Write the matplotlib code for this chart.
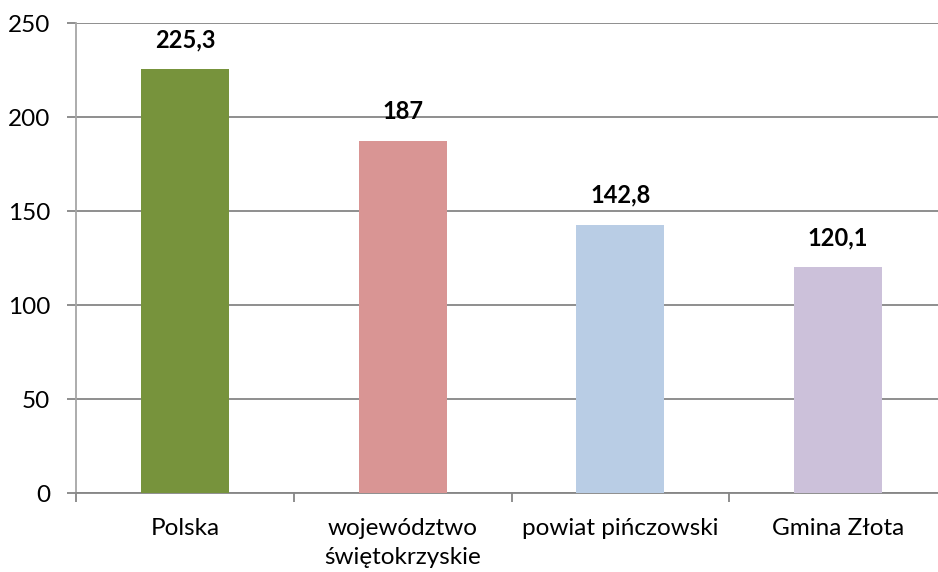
import matplotlib
matplotlib.use("Agg")
import matplotlib.pyplot as plt

categories = ["Polska", "województwo\nświętokrzyskie", "powiat pińczowski", "Gmina Złota"]
values = [225.3, 187, 142.8, 120.1]
value_labels = ["225,3", "187", "142,8", "120,1"]
colors = ["#77933C", "#D99594", "#B9CDE5", "#CCC1DA"]
y_ticks = [0, 50, 100, 150, 200, 250]

plt.rcParams['font.family'] = ['Lato', 'DejaVu Sans']

fig = plt.figure(figsize=(9.38, 5.72), dpi=100)
ax = fig.add_axes([76/938, 79/572, 871/938, 470/572])

x = range(len(categories))
ax.bar(x, values, width=0.405, color=colors, zorder=3)

for xi, v, lab in zip(x, values, value_labels):
    ax.annotate(lab, (xi, v), xytext=(0, 13), textcoords="offset points",
                ha="center", va="bottom", fontsize=17, fontweight="bold")

ax.set_xlim(-0.5, len(categories) - 0.5)
ax.set_ylim(0, 250)
ax.set_yticks(y_ticks)
ax.set_yticklabels([str(t) for t in y_ticks], fontsize=17.5)
ax.yaxis.grid(True, color="#868686", linewidth=1.3, zorder=0)
ax.tick_params(axis="y", length=6.5, width=1.3, color="#868686", pad=12)

ax.set_xticks(x)
ax.set_xticklabels(categories, fontsize=17.5, linespacing=1.5)
ax.set_xticks([i - 0.5 for i in range(len(categories))], minor=True)
ax.tick_params(axis="x", which="major", length=0, pad=18)
ax.tick_params(axis="x", which="minor", length=6.5, width=1.3, color="#868686")

for s in ["top", "right"]:
    ax.spines[s].set_visible(False)
ax.spines["left"].set_color("#A6A6A6")
ax.spines["left"].set_linewidth(1.3)
ax.spines["bottom"].set_color("#868686")
ax.spines["bottom"].set_linewidth(1.3)

fig.savefig("out.png", dpi=100)
